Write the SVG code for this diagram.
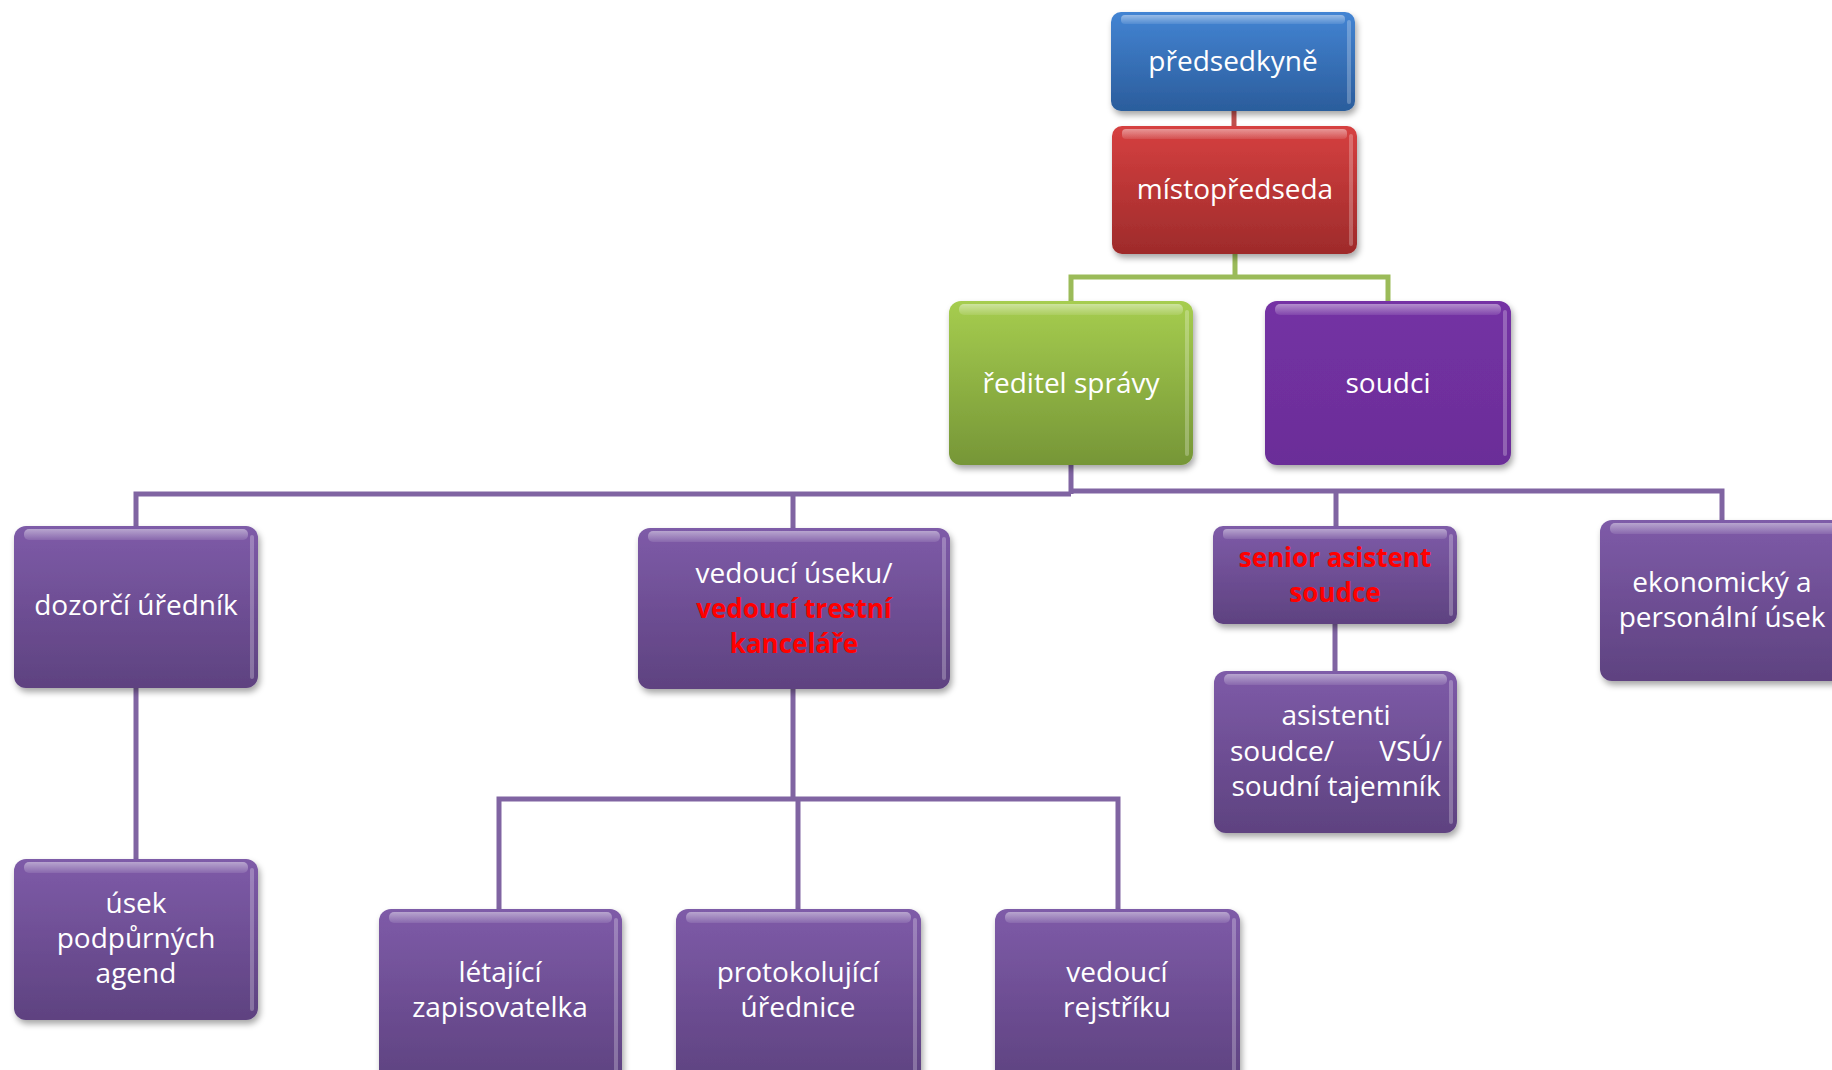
<svg xmlns="http://www.w3.org/2000/svg" width="1832" height="1070" viewBox="0 0 1832 1070">
<defs>
<linearGradient id="gBlue" x1="0" y1="0" x2="0" y2="1"><stop offset="0" stop-color="#4384d3"/><stop offset="1" stop-color="#2b5d9c"/></linearGradient>
<linearGradient id="gRed" x1="0" y1="0" x2="0" y2="1"><stop offset="0" stop-color="#d64040"/><stop offset="1" stop-color="#9e2b2b"/></linearGradient>
<linearGradient id="gGreen" x1="0" y1="0" x2="0" y2="1"><stop offset="0" stop-color="#a6cd4f"/><stop offset="1" stop-color="#769637"/></linearGradient>
<linearGradient id="gPurple" x1="0" y1="0" x2="0" y2="1"><stop offset="0" stop-color="#7e5ba8"/><stop offset="1" stop-color="#5e4280"/></linearGradient>
<linearGradient id="gSoud" x1="0" y1="0" x2="0" y2="1"><stop offset="0" stop-color="#7431a4"/><stop offset="1" stop-color="#6b2e98"/></linearGradient>
<linearGradient id="gHl" x1="0" y1="0" x2="0" y2="1"><stop offset="0" stop-color="#ffffff" stop-opacity="0.45"/><stop offset="1" stop-color="#ffffff" stop-opacity="0.1"/></linearGradient>
<filter id="sh" x="-10%" y="-10%" width="125%" height="130%"><feDropShadow dx="2" dy="4" stdDeviation="3" flood-color="#000" flood-opacity="0.35"/></filter>
</defs>
<style>
.box{filter:url(#sh);}
.hl{fill:url(#gHl);}
.edge{fill:#ffffff;fill-opacity:0.25;}
.t{font-family:"Open Sans","Noto Sans",sans-serif;font-size:28px;fill:#ffffff;text-anchor:middle;}
.r{font-weight:bold;fill:#ff0000;font-size:26px;}
.cp{fill:none;stroke:#8064a2;stroke-width:5;}
.cg{fill:none;stroke:#9bbb59;stroke-width:5;}
.cr{fill:none;stroke:#c0504d;stroke-width:5;}
</style>
<g id="connectors">
<path class="cr" d="M1234 111 V127"/>
<path class="cg" d="M1235 254 V277 M1071 302 V277 H1388 V302"/>
<path class="cp" d="M1071 465 V494 M136 527 V494 H1071 M1071 491 H1722 V521 M793 494 V529 M1336 491 V527 M136 688 V860 M1335 624 V672 M793 689 V799 M499 910 V799 H1118 V910 M798 799 V910"/>
</g>
<g id="predsedkyne"><rect class="box" x="1111" y="12" width="244" height="99" rx="10" fill="url(#gBlue)"/><rect class="hl" x="1121" y="15" width="224" height="9" rx="4"/><rect class="edge" x="1347" y="20" width="4" height="84" rx="2"/><text class="t" x="1233" y="71">předsedkyně</text></g>
<g id="mistopredseda"><rect class="box" x="1112" y="126" width="245" height="128" rx="10" fill="url(#gRed)"/><rect class="hl" x="1122" y="129" width="225" height="10" rx="4"/><rect class="edge" x="1349" y="134" width="4" height="112" rx="2"/><text class="t" x="1235" y="199">místopředseda</text></g>
<g id="reditel"><rect class="box" x="949" y="301" width="244" height="164" rx="12" fill="url(#gGreen)"/><rect class="hl" x="959" y="304" width="224" height="11" rx="5"/><rect class="edge" x="1185" y="310" width="4" height="146" rx="2"/><text class="t" x="1071" y="393">ředitel správy</text></g>
<g id="soudci"><rect class="box" x="1265" y="301" width="246" height="164" rx="12" fill="url(#gSoud)"/><rect class="hl" x="1275" y="304" width="226" height="11" rx="5"/><rect class="edge" x="1503" y="310" width="4" height="146" rx="2"/><text class="t" x="1388" y="393">soudci</text></g>
<g id="dozorci"><rect class="box" x="14" y="526" width="244" height="162" rx="12" fill="url(#gPurple)"/><rect class="hl" x="24" y="529" width="224" height="11" rx="5"/><rect class="edge" x="250" y="535" width="4" height="144" rx="2"/><text class="t" x="136" y="615">dozorčí úředník</text></g>
<g id="vedouci-useku"><rect class="box" x="638" y="528" width="312" height="161" rx="12" fill="url(#gPurple)"/><rect class="hl" x="648" y="531" width="292" height="11" rx="5"/><rect class="edge" x="942" y="537" width="4" height="143" rx="2"/><text class="t" x="794" y="583">vedoucí úseku/</text><text class="t r" x="794" y="618">vedoucí trestní</text><text class="t r" x="794" y="653">kanceláře</text></g>
<g id="senior"><rect class="box" x="1213" y="526" width="244" height="98" rx="10" fill="url(#gPurple)"/><rect class="hl" x="1223" y="529" width="224" height="10" rx="4"/><rect class="edge" x="1449" y="534" width="4" height="82" rx="2"/><text class="t r" x="1335" y="567">senior asistent</text><text class="t r" x="1335" y="602">soudce</text></g>
<g id="asistenti"><rect class="box" x="1214" y="671" width="243" height="162" rx="12" fill="url(#gPurple)"/><rect class="hl" x="1224" y="674" width="223" height="11" rx="5"/><rect class="edge" x="1449" y="680" width="4" height="144" rx="2"/><text class="t" x="1336" y="725">asistenti</text><text class="t"><tspan x="1230" y="761" text-anchor="start">soudce/</tspan><tspan x="1442" y="761" text-anchor="end">VSÚ/</tspan></text><text class="t" x="1336" y="796">soudní tajemník</text></g>
<g id="ekonomicky"><rect class="box" x="1600" y="520" width="250" height="161" rx="12" fill="url(#gPurple)"/><rect class="hl" x="1610" y="523" width="240" height="11" rx="5"/><text class="t" x="1722" y="592">ekonomický a</text><text class="t" x="1722" y="627">personální úsek</text></g>
<g id="usek"><rect class="box" x="14" y="859" width="244" height="161" rx="12" fill="url(#gPurple)"/><rect class="hl" x="24" y="862" width="224" height="11" rx="5"/><rect class="edge" x="250" y="868" width="4" height="143" rx="2"/><text class="t" x="136" y="913">úsek</text><text class="t" x="136" y="948">podpůrných</text><text class="t" x="136" y="983">agend</text></g>
<g id="letajici"><rect class="box" x="379" y="909" width="243" height="175" rx="12" fill="url(#gPurple)"/><rect class="hl" x="389" y="912" width="223" height="11" rx="5"/><rect class="edge" x="614" y="918" width="4" height="160" rx="2"/><text class="t" x="500" y="982">létající</text><text class="t" x="500" y="1017">zapisovatelka</text></g>
<g id="protokolujici"><rect class="box" x="676" y="909" width="245" height="175" rx="12" fill="url(#gPurple)"/><rect class="hl" x="686" y="912" width="225" height="11" rx="5"/><rect class="edge" x="913" y="918" width="4" height="160" rx="2"/><text class="t" x="798" y="982">protokolující</text><text class="t" x="798" y="1017">úřednice</text></g>
<g id="rejstrik"><rect class="box" x="995" y="909" width="245" height="175" rx="12" fill="url(#gPurple)"/><rect class="hl" x="1005" y="912" width="225" height="11" rx="5"/><rect class="edge" x="1232" y="918" width="4" height="160" rx="2"/><text class="t" x="1117" y="982">vedoucí</text><text class="t" x="1117" y="1017">rejstříku</text></g>
</svg>
